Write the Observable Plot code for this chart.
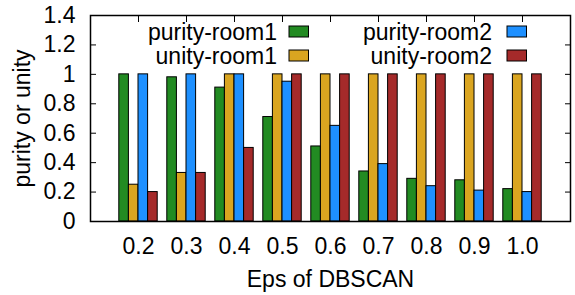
<!DOCTYPE html>
<html>
<head>
<meta charset="utf-8">
<script src="https://cdn.jsdelivr.net/npm/d3@7"></script>
<script src="https://cdn.jsdelivr.net/npm/@observablehq/plot@0.6"></script>
<style>
  html, body { margin: 0; padding: 0; background: #fff; }
  #chart { width: 575px; height: 295px; }
  svg { font-family: "Liberation Sans", Arial, Helvetica, sans-serif; }
</style>
</head>
<body>
<div id="chart"></div>
<script>
// Data
const epsLabels = ["0.2", "0.3", "0.4", "0.5", "0.6", "0.7", "0.8", "0.9", "1.0"];
const seriesNames = ["purity-room1", "unity-room1", "purity-room2", "unity-room2"];
const seriesColors = ["#228B22", "#DAA520", "#1E90FF", "#A52A2A"];
const purityRoom1 = [1.00, 0.98, 0.91, 0.71, 0.51, 0.34, 0.29, 0.28, 0.22];
const unityRoom1  = [0.25, 0.33, 1.00, 1.00, 1.00, 1.00, 1.00, 1.00, 1.00];
const purityRoom2 = [1.00, 1.00, 1.00, 0.95, 0.65, 0.39, 0.24, 0.21, 0.20];
const unityRoom2  = [0.20, 0.33, 0.50, 1.00, 1.00, 1.00, 1.00, 1.00, 1.00];
const yTicks = [0, 0.2, 0.4, 0.6, 0.8, 1.0, 1.2, 1.4];
const yTickLabels = ["0", "0.2", "0.4", "0.6", "0.8", "1", "1.2", "1.4"];
const xTitle = "Eps of DBSCAN";
const yTitle = "purity or unity";

const seriesValues = [purityRoom1, unityRoom1, purityRoom2, unityRoom2];
const nSeries = seriesNames.length;
const barW = 1 / (nSeries + 1); // gnuplot clustered histogram, gap 1
const rows = [];
seriesValues.forEach((vals, s) => {
  vals.forEach((v, i) => {
    const x1 = i + (s - nSeries / 2) * barW;
    rows.push({series: seriesNames[s], i, x1, x2: x1 + barW, value: v});
  });
});
const xIdx = epsLabels.map((_, i) => i);
const FS = 23;

const chart = Plot.plot({
  width: 575,
  height: 295,
  marginLeft: 90,
  marginRight: 5,
  marginTop: 15,
  marginBottom: 74,
  style: {fontSize: FS + "px", fontFamily: "Liberation Sans, Arial, sans-serif", background: "white", color: "black"},
  x: {domain: [-1, epsLabels.length], label: null},
  y: {domain: [0, 1.4], label: null},
  color: {domain: seriesNames, range: seriesColors},
  marks: [
    // inward ticks (gnuplot style, mirrored)
    Plot.axisY(yTicks, {anchor: "left", tickSize: -6, tickFormat: () => "", label: null, strokeWidth: 1}),
    Plot.axisY(yTicks, {anchor: "right", tickSize: -6, tickFormat: () => "", label: null, strokeWidth: 1}),
    Plot.axisX(xIdx, {anchor: "top", tickSize: -6, tickFormat: () => "", label: null, strokeWidth: 1}),
    Plot.axisX(xIdx, {anchor: "bottom", tickSize: -6, tickFormat: () => "", label: null, strokeWidth: 1}),
    // tick labels
    Plot.axisY(yTicks, {anchor: "left", tickSize: 0, tickPadding: 15, tickFormat: d => yTickLabels[yTicks.indexOf(d)], label: null, fontSize: FS}),
    Plot.axisX(xIdx, {anchor: "bottom", tickSize: 0, tickPadding: 16, tickFormat: d => epsLabels[d], label: null, fontSize: FS}),
    // bars
    Plot.rect(rows, {x1: "x1", x2: "x2", y1: 0, y2: "value", fill: "series", stroke: "black", strokeWidth: 1}),
    Plot.frame({stroke: "black", strokeWidth: 1.5}),
    // axis titles
    Plot.text([xTitle], {frameAnchor: "bottom", textAnchor: "middle", text: d => d, dy: 58, lineAnchor: "middle", fontSize: FS}),
    Plot.text([yTitle], {frameAnchor: "left", textAnchor: "middle", text: d => d, rotate: -90, dx: -68, lineAnchor: "middle", fontSize: FS})
  ]
});

// In-plot legend (gnuplot key, two columns, text left of swatch)
const svg = d3.select(chart);
const legendCols = [{textEnd: 277, sw: 289}, {textEnd: 492, sw: 507}];
const legendRows = [31.5, 55.5];
const g = svg.append("g").attr("class", "key").attr("font-size", FS);
// gnuplot order: purity-room1 (col0,row0), purity-room2 (col1,row0), unity-room1 (col0,row1), unity-room2 (col1,row1)
const layout = [
  {s: 0, c: 0, r: 0},
  {s: 2, c: 1, r: 0},
  {s: 1, c: 0, r: 1},
  {s: 3, c: 1, r: 1}
];
layout.forEach(({s, c, r}) => {
  const col = legendCols[c];
  const cy = legendRows[r];
  g.append("text")
    .attr("x", col.textEnd)
    .attr("y", cy)
    .attr("dy", "0.36em")
    .attr("text-anchor", "end")
    .attr("fill", "black")
    .text(seriesNames[s]);
  g.append("rect")
    .attr("x", col.sw)
    .attr("y", cy - 5.5)
    .attr("width", 19.5)
    .attr("height", 11)
    .attr("fill", seriesColors[s])
    .attr("stroke", "black")
    .attr("stroke-width", 1);
});

document.getElementById("chart").appendChild(chart);
</script>
</body>
</html>
